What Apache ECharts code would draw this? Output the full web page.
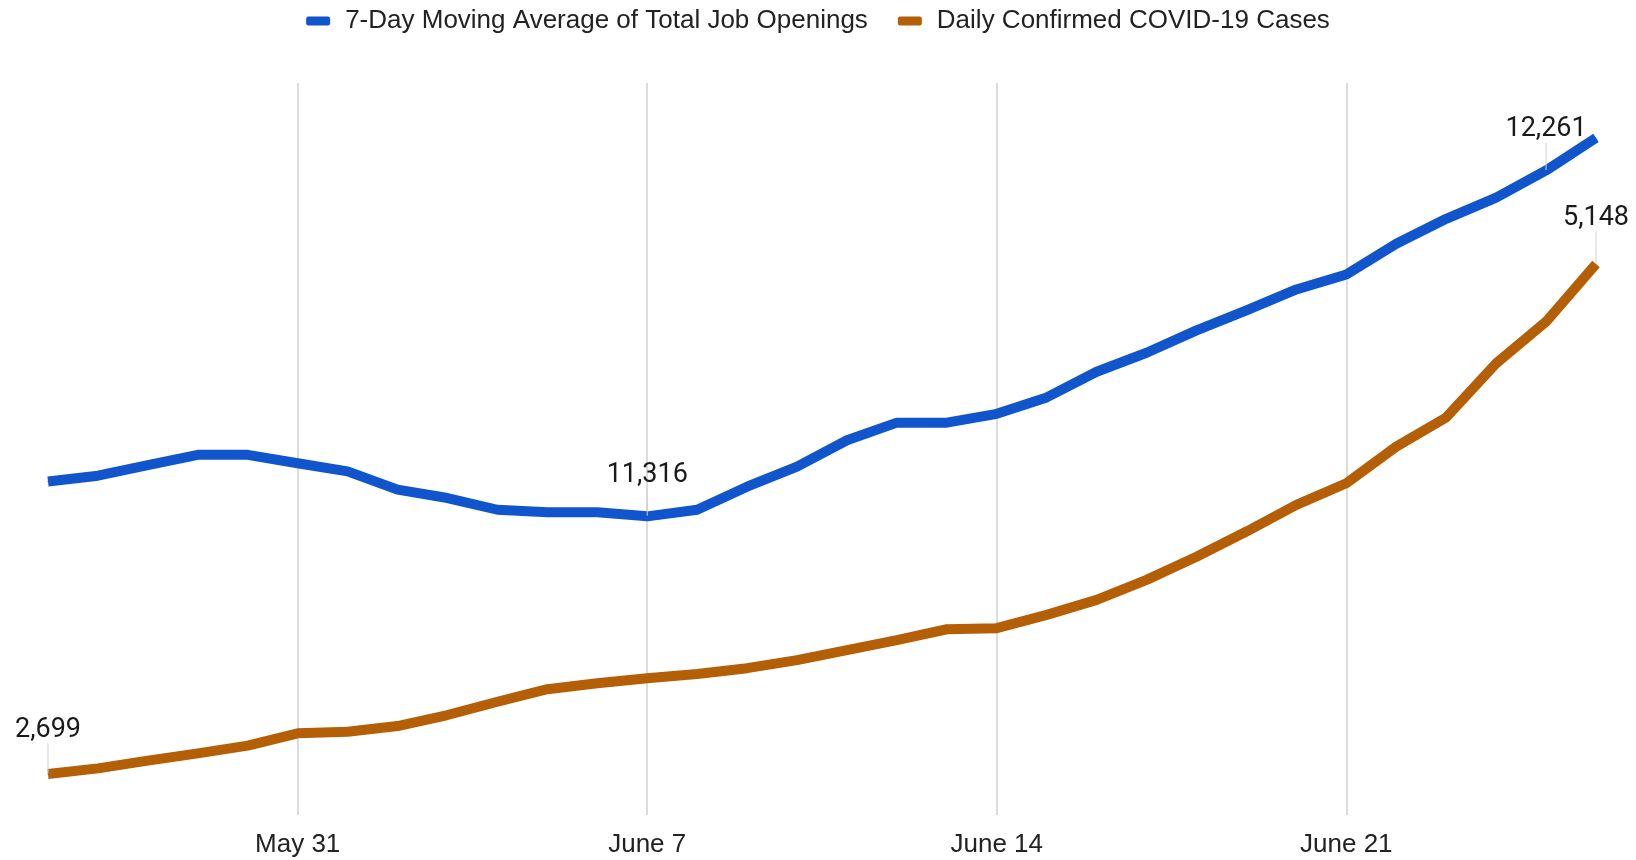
<!DOCTYPE html>
<html>
<head>
<meta charset="utf-8">
<script src="https://cdn.jsdelivr.net/npm/echarts@6/dist/echarts.min.js"></script>
<style>
    html, body { margin: 0; padding: 0; background: #fff; }
    #chart { width: 1636px; height: 860px; }
</style>
</head>
<body>
<div id="chart"></div>
<script>
    // 日期 May 26 - June 26
    const dates = [
        'May 26', 'May 27', 'May 28', 'May 29', 'May 30', 'May 31',
        'June 1', 'June 2', 'June 3', 'June 4', 'June 5', 'June 6', 'June 7',
        'June 8', 'June 9', 'June 10', 'June 11', 'June 12', 'June 13', 'June 14',
        'June 15', 'June 16', 'June 17', 'June 18', 'June 19', 'June 20', 'June 21',
        'June 22', 'June 23', 'June 24', 'June 25', 'June 26'
    ];
    const tickDates = ['May 31', 'June 7', 'June 14', 'June 21'];

    const jobOpenings = [
        11411, 11427, 11456, 11484, 11484, 11461, 11439, 11389, 11366, 11334,
        11327, 11327, 11316, 11334, 11397, 11452, 11524, 11572, 11572, 11596,
        11641, 11711, 11763, 11824, 11879, 11936, 11977, 12061, 12129, 12187,
        12261, 12350
    ];
    const covidCases = [
        2699, 2726, 2763, 2798, 2835, 2894, 2902, 2929, 2982, 3046,
        3106, 3135, 3159, 3179, 3207, 3246, 3294, 3342, 3394, 3399,
        3463, 3535, 3631, 3742, 3863, 3991, 4095, 4271, 4411, 4671,
        4871, 5148
    ];

    // 需要显示数值的点
    const jobLabelIdx = [12, 30];
    const caseLabelIdx = [0, 31];

    const axisFont = '"Liberation Sans", Arial, Helvetica, sans-serif';
    const labelFont = 'Roboto, "Liberation Sans", Arial, sans-serif';

    const chart = echarts.init(document.getElementById('chart'));

    function withLabels(values, idx) {
        return values.map((v, i) => {
            if (idx.indexOf(i) < 0) return v;
            return {
                value: v,
                label: { show: true }
            };
        });
    }

    // 标签上移
    const labelShift = {
        '0-12': -22,
        '0-30': -22,
        '1-0': -25,
        '1-31': -27
    };

    function seriesLabel() {
        return {
            show: false,
            position: 'top',
            distance: 5,
            fontFamily: labelFont,
            fontSize: 27,
            color: '#1a1a1a',
            formatter: p => p.value.toLocaleString('en-US')
        };
    }

    const option = {
        animation: false,
        color: ['#1155CC', '#B45F06'],
        legend: {
            top: 3,
            left: 'center',
            itemWidth: 24,
            itemHeight: 9,
            itemGap: 30,
            icon: 'roundRect',
            textStyle: {
                fontFamily: axisFont,
                fontSize: 26,
                color: '#222',
                padding: [0, 0, 0, 10]
            },
            data: ['7-Day Moving Average of Total Job Openings', 'Daily Confirmed COVID-19 Cases']
        },
        grid: {
            left: 48,
            right: 40,
            top: 83,
            bottom: 45
        },
        xAxis: {
            type: 'category',
            boundaryGap: false,
            data: dates,
            axisLine: { show: false },
            axisTick: { show: false },
            axisLabel: {
                interval: (i, v) => tickDates.indexOf(v) >= 0,
                margin: 17,
                fontFamily: axisFont,
                fontSize: 26,
                color: '#222'
            },
            splitLine: {
                show: true,
                interval: (i, v) => tickDates.indexOf(v) >= 0,
                lineStyle: { color: '#d0d0d0', width: 1.5 }
            }
        },
        yAxis: [{
            type: 'value',
            min: 10500,
            max: 12500,
            show: false,
            splitLine: { show: false }
        }, {
            type: 'value',
            min: 2502,
            max: 6017,
            show: false,
            splitLine: { show: false }
        }, {
            type: 'value',
            min: 0,
            max: 4,
            interval: 1,
            axisLine: { show: false },
            axisTick: { show: false },
            axisLabel: { show: false },
            splitLine: { show: true, lineStyle: { color: '#fff', width: 3 } }
        }],
        series: [{
            name: '7-Day Moving Average of Total Job Openings',
            type: 'line',
            yAxisIndex: 0,
            symbol: 'circle',
            symbolSize: 1,
            showAllSymbol: true,
            lineStyle: { width: 10, join: 'round' },
            label: seriesLabel(),
            labelLine: { show: true, lineStyle: { color: '#d0d0d0', width: 1 } },
            data: withLabels(jobOpenings, jobLabelIdx)
        }, {
            name: 'Daily Confirmed COVID-19 Cases',
            type: 'line',
            yAxisIndex: 1,
            symbol: 'circle',
            symbolSize: 1,
            showAllSymbol: true,
            lineStyle: { width: 10, join: 'round' },
            label: seriesLabel(),
            labelLine: { show: true, lineStyle: { color: '#d0d0d0', width: 1 } },
            data: withLabels(covidCases, caseLabelIdx)
        }],
        labelLayout(params) {
            const dy = labelShift[params.seriesIndex + '-' + params.dataIndex];
            if (dy === undefined) return {};
            return { dy: dy };
        }
    };

    chart.setOption(option);
    window.addEventListener('resize', () => chart.resize());
</script>
</body>
</html>
